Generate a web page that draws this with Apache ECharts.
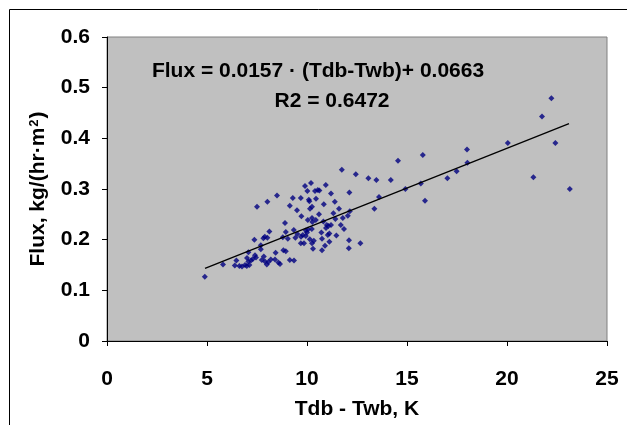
<!DOCTYPE html>
<html>
<head>
<meta charset="utf-8">
<script src="https://cdn.jsdelivr.net/npm/echarts@6/dist/echarts.min.js"></script>
<style>html,body{margin:0;padding:0;background:#fff;}#c{width:627px;height:425px;}</style>
</head>
<body>
<div id="c"></div>
<script>
// Measured points: Tdb - Twb (K)
var xValues = [4.89,5.80,6.47,6.39,6.62,6.75,6.90,6.99,7.12,7.00,7.07,7.07,7.20,7.29,7.40,7.45,7.37,7.50,7.69,7.69,7.74,7.82,7.89,8.02,7.84,7.90,7.99,8.07,8.19,8.12,8.02,8.40,8.43,8.57,8.50,8.65,
 8.79,8.82,8.94,8.90,8.94,9.04,9.14,9.14,9.35,9.29,9.34,9.42,9.52,9.50,9.69,9.72,9.70,9.79,9.69,9.85,9.90,9.94,10.00,10.05,9.94,10.02,10.04,10.09,10.12,10.14,10.15,10.20,10.24,10.25,10.25,10.27,10.25,10.30,10.34,10.40,10.44,10.45,10.54,10.62,10.60,10.72,10.75,10.75,10.82,10.84,10.90,10.94,10.95,10.99,11.07,11.04,11.12,11.12,11.20,11.20,11.32,11.39,11.42,11.47,11.60,11.69,11.74,11.79,11.85,12.04,12.12,12.14,12.10,12.09,12.44,12.67,13.07,13.37,13.47,13.60,14.19,14.55,14.92,15.69,15.79,15.90,17.02,17.48,18.00,18.02,20.04,21.32,21.75,22.22,22.42,23.14];
// Measured points: Flux kg/(hr·m²)
var yValues = [0.127,0.151,0.159,0.149,0.148,0.147,0.150,0.148,0.150,0.164,0.157,0.175,0.159,0.162,0.169,0.165,0.200,0.265,0.189,0.181,0.160,0.203,0.206,0.204,0.167,0.157,0.151,0.156,0.161,0.216,0.275,0.161,0.174,0.155,0.287,0.152,
 0.205,0.179,0.177,0.233,0.215,0.202,0.267,0.160,0.159,0.282,0.219,0.204,0.211,0.258,0.282,0.246,0.206,0.209,0.193,0.193,0.306,0.218,0.214,0.220,0.207,0.296,0.239,0.279,0.276,0.201,0.261,0.312,0.221,0.265,0.243,0.235,0.193,0.182,0.198,0.296,0.239,0.281,0.298,0.297,0.250,0.214,0.202,0.179,0.236,0.270,0.188,0.308,0.223,0.229,0.227,0.209,0.212,0.196,0.291,0.229,0.252,0.275,0.241,0.208,0.261,0.229,0.338,0.243,0.221,0.247,0.293,0.256,0.199,0.183,0.329,0.193,0.321,0.261,0.318,0.284,0.318,0.356,0.300,0.311,0.367,0.277,0.321,0.335,0.378,0.352,0.391,0.323,0.443,0.479,0.391,0.300];
// Trend line coefficients and extent
var slope = 0.0157, intercept = 0.0663;
var trendX = [4.9, 23.1];
var xTicks = [0,5,10,15,20,25];
var yTicks = [0,0.1,0.2,0.3,0.4,0.5,0.6];
var eqText = 'Flux = 0.0157 · (Tdb-Twb)+ 0.0663';
var r2Text = 'R2 = 0.6472';

var pts = xValues.map(function(x,i){return [x,yValues[i]];});
var trend = trendX.map(function(x){return [x, slope*x+intercept];});

var chart = echarts.init(document.getElementById('c'), null, {renderer:'canvas'});
var font = 'Liberation Sans, Arial, sans-serif';
var fs = 21;
chart.setOption({
  backgroundColor:'#ffffff',
  animation:false,
  grid:{left:107,right:20,top:37,bottom:84,show:true,backgroundColor:'#c0c0c0',borderColor:'#808080',borderWidth:1},
  xAxis:{type:'value',min:0,max:25,interval:5,
    name:'Tdb - Twb, K',nameLocation:'middle',nameGap:58,
    nameTextStyle:{fontFamily:font,fontWeight:'bold',fontSize:fs,color:'#000'},
    axisLine:{show:true,onZero:false,lineStyle:{color:'#000',width:1}},
    axisTick:{show:true,inside:false,length:5,lineStyle:{color:'#000'}},
    axisLabel:{fontFamily:font,fontWeight:'bold',fontSize:fs,color:'#000',margin:28},
    splitLine:{show:false}},
  yAxis:{type:'value',min:0,max:0.6,interval:0.1,
    name:'{a|Flux, kg/(hr·m}{s|2}{a|)}',nameLocation:'middle',nameGap:58,
    nameTextStyle:{fontFamily:font,fontWeight:'bold',fontSize:fs,color:'#000',
      rich:{a:{fontFamily:font,fontWeight:'bold',fontSize:fs,color:'#000'},
            s:{fontFamily:font,fontWeight:'bold',fontSize:13,color:'#000',verticalAlign:'top',padding:[0,1,8,1]}}},
    axisLine:{show:true,onZero:false,lineStyle:{color:'#000',width:1}},
    axisTick:{show:true,inside:false,length:5,lineStyle:{color:'#000'}},
    axisLabel:{fontFamily:font,fontWeight:'bold',fontSize:fs,color:'#000',margin:17,
      formatter:function(v){return String(Math.round(v*10)/10);}},
    splitLine:{show:false}},
  series:[
    {type:'scatter',data:pts,symbol:'diamond',symbolSize:6,itemStyle:{color:'#000080'},z:3},
    {type:'line',data:trend,symbol:'none',lineStyle:{color:'#000',width:1.3},z:4}
  ],
  graphic:[
    {type:'rect',shape:{x:9.5,y:9.5,width:640,height:440},style:{fill:'none',stroke:'#000',lineWidth:1},z:-1,silent:true},
    {type:'text',x:318,y:71,style:{text:eqText,fontFamily:font,fontWeight:'bold',fontSize:fs,fill:'#000',align:'center',verticalAlign:'middle'},z:10},
    {type:'text',x:332,y:101,style:{text:r2Text,fontFamily:font,fontWeight:'bold',fontSize:fs,fill:'#000',align:'center',verticalAlign:'middle'},z:10}
  ]
});
</script>
</body>
</html>
